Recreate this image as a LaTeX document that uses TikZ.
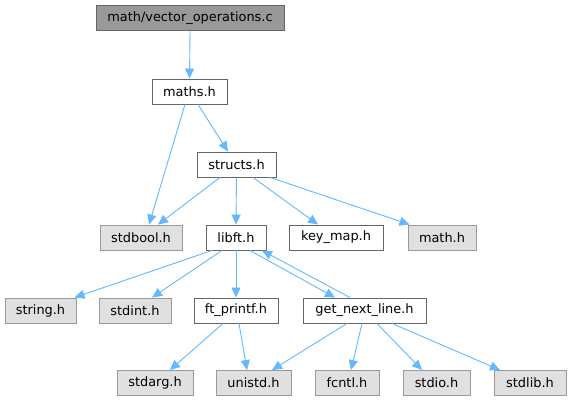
\documentclass[tikz,border=0pt]{standalone}
\usepackage{fontspec}
\setmainfont{DejaVu Sans}
\usetikzlibrary{arrows.meta}
\definecolor{edgeblue}{HTML}{63B8FF}
\definecolor{sysfill}{HTML}{E0E0E0}
\definecolor{sysdraw}{HTML}{999999}
\definecolor{topfill}{HTML}{999999}
\definecolor{dkdraw}{HTML}{666666}
\begin{document}
\begin{tikzpicture}[x=1pt,y=-1pt,
  box/.style={draw=dkdraw,fill=white,line width=0.9pt,minimum height=25pt,inner sep=0pt,
    font=\fontsize{12.9}{15}\selectfont,text=black},
  sysbox/.style={box,draw=sysdraw,fill=sysfill},
  topbox/.style={box,fill=topfill},
  dep/.style={draw=edgeblue,line width=0.9pt,-{Triangle[length=10pt,width=9pt]}}]
\useasboundingbox (0,0) rectangle (571,403);
% row 1
\node[topbox,minimum width=188pt] (top) at (190,18) {math/vector\_operations.c};
% row 2
\node[box,minimum width=75pt] (maths) at (189.5,91.5) {maths.h};
% row 3
\node[box,minimum width=79pt] (structs) at (236.5,164.5) {structs.h};
% row 4
\node[sysbox,minimum width=82pt] (stdbool) at (141,237.5) {stdbool.h};
\node[box,minimum width=60pt] (libft) at (236,237.5) {libft.h};
\node[box,minimum width=94pt] (keymap) at (336,237.5) {key\_map.h};
\node[sysbox,minimum width=68pt] (mathh) at (442,237.5) {math.h};
% row 5
\node[sysbox,minimum width=71pt] (string) at (40.5,310.5) {string.h};
\node[sysbox,minimum width=72pt] (stdint) at (135,310.5) {stdint.h};
\node[box,minimum width=84pt] (ftprintf) at (236,310.5) {ft\_printf.h};
\node[box,minimum width=123pt] (gnl) at (364.5,310.5) {get\_next\_line.h};
% row 6
\node[sysbox,minimum width=76pt] (stdarg) at (155,383) {stdarg.h};
\node[sysbox,minimum width=75pt] (unistd) at (253.5,383) {unistd.h};
\node[sysbox,minimum width=64pt] (fcntl) at (347,383) {fcntl.h};
\node[sysbox,minimum width=67pt] (stdio) at (436.5,383) {stdio.h};
\node[sysbox,minimum width=72pt] (stdlib) at (530,383) {stdlib.h};
% edges
\draw[dep] (top.south) -- (maths.north);
\draw[dep] ([xshift=-4.5pt]maths.south) -- ([xshift=8pt]stdbool.north);
\draw[dep] ([xshift=8.5pt]maths.south) -- ([xshift=-8.5pt]structs.north);
\draw[dep] ([xshift=-16.5pt]structs.south) -- ([xshift=17pt]stdbool.north);
\draw[dep] (structs.south) -- (libft.north);
\draw[dep] ([xshift=16.5pt]structs.south) -- ([xshift=-18pt]keymap.north);
\draw[dep] ([xshift=33.5pt]structs.south) -- ([xshift=2pt]mathh.north west);
\draw[dep] ([xshift=-24pt]libft.south) -- ([xshift=34pt]string.north);
\draw[dep] ([xshift=-14pt]libft.south) -- ([xshift=17pt]stdint.north);
\draw[dep] (libft.south) -- (ftprintf.north);
\draw[dep] ([xshift=14pt]libft.south) -- ([xshift=-29.5pt]gnl.north);
\draw[dep] ([xshift=-14.5pt]gnl.north) -- ([xshift=26pt]libft.south);
\draw[dep] ([xshift=-13pt]ftprintf.south) -- ([xshift=15pt]stdarg.north);
\draw[dep] ([xshift=3pt]ftprintf.south) -- ([xshift=-6.5pt]unistd.north);
\draw[dep] ([xshift=-17.5pt]gnl.south) -- ([xshift=18.5pt]unistd.north);
\draw[dep] ([xshift=-2.5pt]gnl.south) -- ([xshift=4pt]fcntl.north);
\draw[dep] ([xshift=12.5pt]gnl.south) -- ([xshift=-14.5pt]stdio.north);
\draw[dep] ([xshift=27.5pt]gnl.south) -- ([xshift=-30pt]stdlib.north);
\end{tikzpicture}
\end{document}
